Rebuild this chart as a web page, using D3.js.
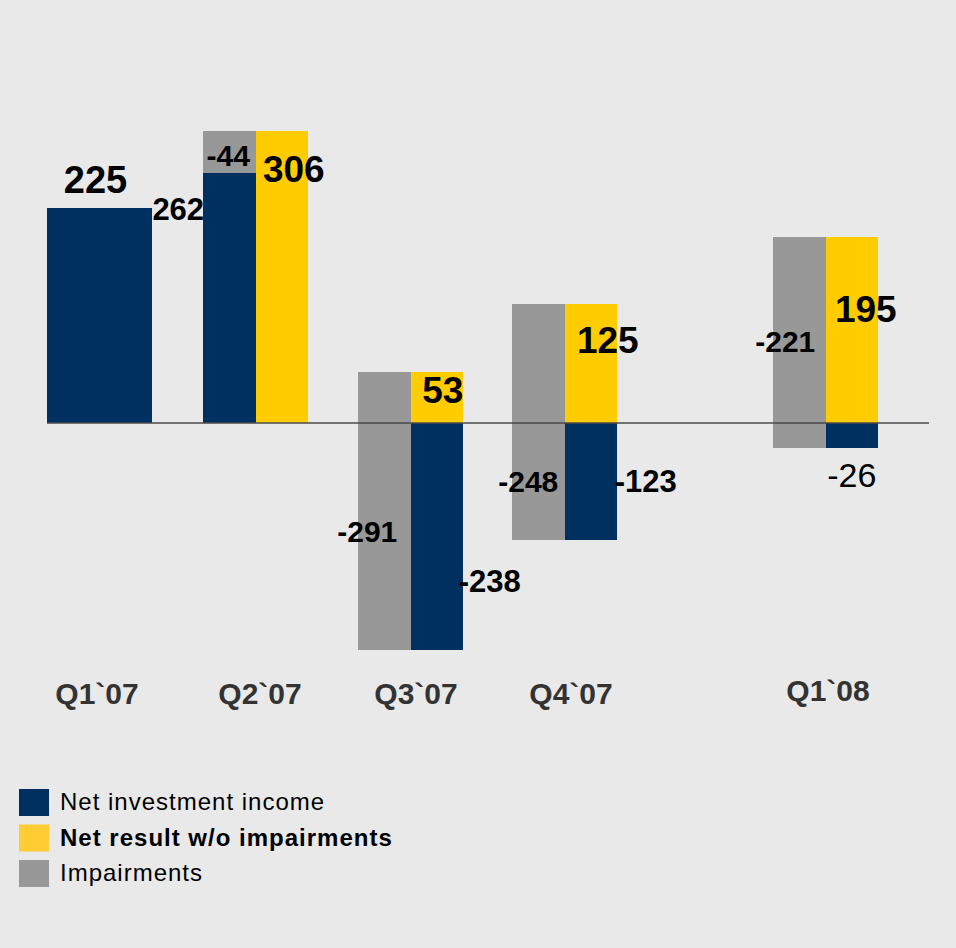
<!DOCTYPE html>
<html>
<head>
<meta charset="utf-8">
<script src="https://cdn.jsdelivr.net/npm/d3@7/dist/d3.min.js"></script>
<style>
  body { margin: 0; background: #fff; }
  svg text { font-family: "Liberation Sans", Arial, sans-serif; }
</style>
</head>
<body>
<div id="chart"></div>
<script>
// data
var quarters = ["Q1`07", "Q2`07", "Q3`07", "Q4`07", "Q1`08"];
var netInvestmentIncome = [225, 262, -238, -123, -26];
var netResult = [225, 306, 53, 125, 195];      // Q1`07 has no impairments, so result = income
var impairments = [0, -44, -291, -248, -221];
var seriesNames = ["Net investment income", "Net result w/o impairments", "Impairments"];

var width = 956, height = 948;

var colors = { nii: "#00305f", result: "#ffcc00", imp: "#989898" };

// label nudges (dx, dy) from the anchor point of each label
var niiNudge = [[-4, -15], [-51, 47], [53, -58], [55, -48], [0, 39]];
var resultNudge = [null, [12, 51], [6, 31], [17, 49], [14, 85]];
var impNudge = [null, [-1, 14], [-17, 31], [-10, 70], [-14, 10]];

var svg = d3.select("#chart")
  .append("svg")
  .attr("width", width)
  .attr("height", height);

svg.append("rect")
  .attr("width", width)
  .attr("height", height)
  .attr("fill", "#e9e9e9");

// left edge of each quarter group
var x = d3.scaleOrdinal()
  .domain(quarters)
  .range([47, 203, 358, 512, 773]);

var slot = d3.scaleBand()
  .domain(["left", "right"])
  .range([0, 105]);

var y = d3.scaleLinear()
  .domain([-238, 306])
  .range([650, 131]);

var rows = quarters.map(function(q, i) {
  return { q: q, nii: netInvestmentIncome[i], res: netResult[i], imp: impairments[i], i: i };
});

var g = svg.append("g");
var bars = g.append("g").attr("shape-rendering", "crispEdges");

function bar(x0, v0, v1, fill) {
  bars.append("rect")
    .attr("x", x0)
    .attr("y", y(Math.max(v0, v1)))
    .attr("width", slot.bandwidth())
    .attr("height", Math.abs(y(v0) - y(v1)))
    .attr("fill", fill);
}

rows.forEach(function(d) {
  var left = x(d.q) + slot("left");
  var right = x(d.q) + slot("right");
  // left slot: positive income in navy, impairments bridging income and result
  if (d.nii > 0) bar(left, 0, d.nii, colors.nii);
  if (d.imp !== 0) bar(left, d.nii, d.nii - d.imp, colors.imp);
  // right slot: result (navy when there is nothing to bridge), negative income below zero
  bar(right, 0, d.res, d.imp === 0 ? colors.nii : colors.result);
  if (d.nii < 0) bar(right, 0, d.nii, colors.nii);
});

// zero line
g.append("line")
  .attr("x1", 47)
  .attr("x2", 929)
  .attr("y1", y(0))
  .attr("y2", y(0))
  .attr("stroke", "#4a4a4a")
  .attr("stroke-width", 1.5);

// value labels
var labels = g.append("g").attr("fill", "#000").attr("text-anchor", "middle");

rows.forEach(function(d) {
  var i = d.i;
  var leftC = x(d.q) + slot("left") + slot.bandwidth() / 2;
  var rightC = x(d.q) + slot("right") + slot.bandwidth() / 2;

  var niiX = d.imp === 0 ? x(d.q) + slot.step() : (d.nii > 0 ? leftC : rightC);
  var t = labels.append("text")
    .attr("x", niiX + niiNudge[i][0])
    .attr("y", y(d.nii) + niiNudge[i][1])
    .text(d.nii);
  if (d.imp === 0) t.attr("font-size", 38).attr("font-weight", "bold");
  else if (Math.abs(d.nii) < 50) t.attr("font-size", 34);
  else t.attr("font-size", 31).attr("font-weight", "bold");

  if (resultNudge[i]) {
    labels.append("text")
      .attr("x", rightC + resultNudge[i][0])
      .attr("y", y(d.res) + resultNudge[i][1])
      .attr("font-size", 37)
      .attr("font-weight", "bold")
      .text(d.res);
  }
  if (impNudge[i]) {
    labels.append("text")
      .attr("x", leftC + impNudge[i][0])
      .attr("y", (y(d.nii) + y(d.nii - d.imp)) / 2 + impNudge[i][1])
      .attr("font-size", 30)
      .attr("font-weight", "bold")
      .text(d.imp);
  }
});

// category axis
var xCenter = d3.scaleOrdinal()
  .domain(quarters)
  .range(quarters.map(function(q) { return x(q) + slot.step(); }));

var axis = svg.append("g")
  .attr("transform", "translate(0,704)")
  .call(d3.axisBottom(xCenter).tickSize(0).tickPadding(0));
axis.select(".domain").remove();
axis.selectAll("text")
  .attr("dy", 0)
  .attr("dx", function(d, i) { return [-3, 4, 5, 6, 2][i]; })
  .attr("y", function(d, i) { return i === 4 ? -3 : 0; })
  .attr("font-family", "Liberation Sans, Arial, sans-serif")
  .attr("font-size", 30)
  .attr("font-weight", "bold")
  .attr("fill", "#333");

// legend
var legendColors = [colors.nii, "#ffcc33", colors.imp];
var legend = svg.append("g")
  .selectAll("g")
  .data(seriesNames)
  .enter().append("g")
  .attr("transform", function(d, i) { return "translate(19," + (789 + i * 35.5) + ")"; });

legend.append("rect")
  .attr("width", 30)
  .attr("height", 27)
  .attr("fill", function(d, i) { return legendColors[i]; });

legend.append("text")
  .attr("x", 41)
  .attr("y", 21)
  .attr("font-size", 24)
  .attr("letter-spacing", 1)
  .attr("font-weight", function(d, i) { return i === 1 ? "bold" : "normal"; })
  .attr("fill", "#000")
  .text(function(d) { return d; });
</script>
</body>
</html>
